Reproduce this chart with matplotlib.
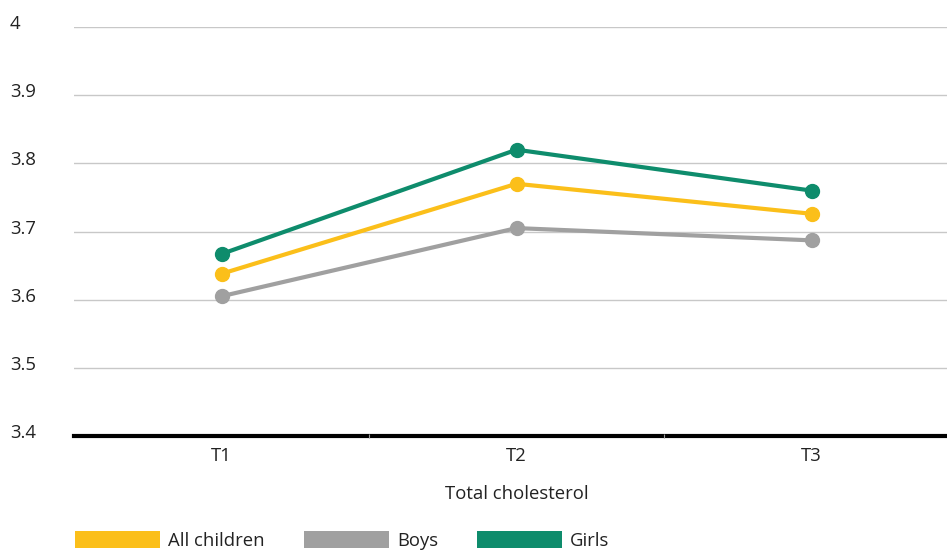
import matplotlib.pyplot as plt
import matplotlib.transforms as mtransforms
from matplotlib.patches import Rectangle

plt.rcParams['font.family'] = ['Open Sans', 'DejaVu Sans']

categories = ['T1', 'T2', 'T3']
all_children = [3.638, 3.770, 3.726]
boys = [3.605, 3.705, 3.687]
girls = [3.667, 3.820, 3.760]
y_ticks = [3.4, 3.5, 3.6, 3.7, 3.8, 3.9, 4.0]
y_labels = ['3.4', '3.5', '3.6', '3.7', '3.8', '3.9', '4']

series = [
    ('All children', all_children, '#FBBF1A'),
    ('Boys', boys, '#A0A0A0'),
    ('Girls', girls, '#0E8C6C'),
]

FS = 13.3
TXT = '#222222'

fig = plt.figure(figsize=(9.47, 5.52), dpi=100)
ax = fig.add_axes([74 / 947, 116 / 552, 885 / 947, 409 / 552])

x = list(range(len(categories)))
for name, vals, col in series:
    ax.plot(x, vals, color=col, lw=3, marker='o', markersize=10,
            solid_capstyle='round', zorder=3, clip_on=False)

ax.set_xlim(-0.5, 2.5)
ax.set_ylim(3.4, 4.0)
ax.set_yticks(y_ticks)
ax.set_yticklabels(y_labels)
ax.set_xticks(x)
ax.set_xticklabels(categories)
ax.set_xticks([0.5, 1.5], minor=True)

for v in y_ticks[1:]:
    ax.axhline(v, color='#C8C8C8', lw=1, zorder=1)

for s in ['top', 'right', 'left']:
    ax.spines[s].set_visible(False)
ax.spines['bottom'].set_linewidth(3)
ax.spines['bottom'].set_color('black')
ax.spines['bottom'].set_zorder(4)
ax.xaxis.set_zorder(5)

ax.tick_params(axis='y', length=0, pad=46, labelsize=FS, labelcolor=TXT)
ax.tick_params(axis='x', which='major', length=0, pad=8, labelsize=FS, labelcolor=TXT)
ax.tick_params(axis='x', which='minor', length=3, width=0.8, color='#999999', direction='inout')

shift = mtransforms.ScaledTranslation(0, 5 / 100, fig.dpi_scale_trans)
for lab in ax.get_yticklabels():
    lab.set_horizontalalignment('left')
    lab.set_transform(lab.get_transform() + shift)

ax.set_xlabel('Total cholesterol', fontsize=FS, color=TXT, labelpad=14)

handles = [Rectangle((0, 0), 1, 1, facecolor=c, edgecolor='none') for _, _, c in series]
leg = fig.legend(handles, [n for n, _, _ in series], loc='lower left',
                 bbox_to_anchor=(62 / 947, -0.02), ncol=3, frameon=False,
                 fontsize=FS, handlelength=4.6, handleheight=1.05,
                 handletextpad=0.45, columnspacing=2.1, borderaxespad=0.3)
for t in leg.get_texts():
    t.set_color(TXT)

fig.savefig('out.png', dpi=100)
